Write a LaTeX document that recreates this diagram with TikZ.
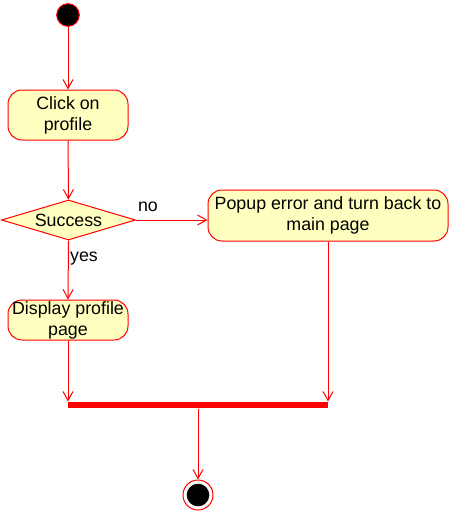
\documentclass[tikz,border=0pt]{standalone}
\usepackage{fontspec}
\setmainfont{Liberation Sans}
\usetikzlibrary{arrows.meta,positioning,shapes.geometric}
\definecolor{actfill}{HTML}{FFFFC0}
\tikzset{
  act/.style={draw=red, fill=actfill, rounded corners=14pt, align=center, inner sep=0pt, minimum width=120pt},
  flow/.style={draw=red, line width=1pt, -{Straight Barb[length=9pt,width=10pt]}},
}

\begin{document}
\begin{tikzpicture}[x=1pt, y=-1pt, font=\fontsize{17.8}{21}\selectfont, line width=1pt]
    \useasboundingbox (0,0) rectangle (449,511);
    \node[circle, draw=red, fill=black, minimum size=22.6pt, inner sep=0pt] (start) at (68,15) {};
    \node[act, minimum height=50pt] (click) at (68,115) {Click on\\profile};
    \node[diamond, draw=red, fill=actfill, aspect=3.35, inner sep=0pt, minimum width=134pt, minimum height=40pt] (succ) at (68.5,220) {Success};
    \node[act, minimum width=240pt, minimum height=51pt] (popup) at (328,215.5) {Popup error and turn back to\\main page};
    \node[act, minimum height=40pt] (disp) at (68,320) {Display profile\\page};
    \node (no) at (148,207) {no};
    \node (yes) at (84,259) {yes};
    \node[rectangle, fill=red, inner sep=0pt, minimum width=260pt, minimum height=6pt] (bar) at (198,405) {};
    \node[circle, draw=red, fill=white, minimum size=30pt, inner sep=0pt,
          path picture={\fill[black] (path picture bounding box.center) circle (11.3pt);}] (stop) at (198,495) {};
    \draw[flow] (start)--(click);
    \draw[flow] (click)--(succ);
    \draw[flow] (succ.east)--(popup.west |- succ.east);
    \draw[flow] (succ.south)--(disp.north);
    \draw[flow] (disp.south)--(disp.south |- bar.north);
    \draw[flow] (popup.south)--(popup.south |- bar.north);
    \draw[flow] (bar.south)--(stop.north);
\end{tikzpicture}
\end{document}
